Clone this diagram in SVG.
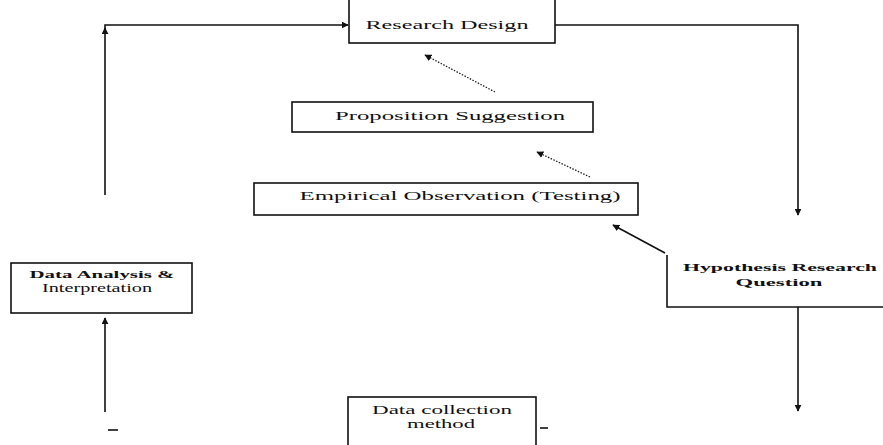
<svg xmlns="http://www.w3.org/2000/svg" width="883" height="445" viewBox="0 0 883 445">
<style>
.box{fill:#fff;stroke:#111;stroke-width:1.6}
.t{font-family:"Liberation Serif","Times New Roman",serif;font-size:12px;fill:#111;text-anchor:middle}
.b{font-weight:bold;font-size:11px}
.c{fill:none;stroke:#111;stroke-width:1.6}
.d{fill:none;stroke:#222;stroke-width:1.3;stroke-dasharray:1.5 1.5}
</style>
<defs>
<marker id="ahs" viewBox="0 0 10 10" refX="9" refY="5" markerWidth="7" markerHeight="7" orient="auto" markerUnits="userSpaceOnUse"><path d="M0,0 L10,5 L0,10 z" fill="#111"/></marker>
</defs>
<g id="connectors">
<polyline class="c" points="555,25 798,25 798,215" marker-end="url(#ahs)"/>
<polyline class="c" points="105,195 105,25 348,25" marker-end="url(#ahs)"/>
<line class="c" x1="105" y1="30" x2="105" y2="28" marker-end="url(#ahs)"/>
<line class="c" x1="798" y1="307" x2="798" y2="411" marker-end="url(#ahs)"/>
<line class="c" x1="105" y1="412" x2="105" y2="318" marker-end="url(#ahs)"/>
<line class="c" x1="665" y1="253" x2="613" y2="225" marker-end="url(#ahs)"/>
<line class="d" x1="495" y1="92" x2="425" y2="55" marker-end="url(#ahs)"/>
<line class="d" x1="590" y1="177" x2="537" y2="152" marker-end="url(#ahs)"/>
<line class="c" stroke-width="2.5" x1="108" y1="430" x2="118" y2="430"/>
<line class="c" stroke-width="2.5" x1="540" y1="428" x2="548" y2="428"/>
</g>
<g id="research-design">
<rect class="box" x="349" y="-5" width="206" height="48"/>
<text class="t" x="447" y="29" textLength="163" lengthAdjust="spacingAndGlyphs">Research Design</text>
</g>
<g id="proposition-suggestion">
<rect class="box" x="292" y="102" width="301" height="30"/>
<text class="t" x="450" y="120" textLength="230" lengthAdjust="spacingAndGlyphs">Proposition Suggestion</text>
</g>
<g id="empirical-observation">
<rect class="box" x="254" y="183" width="384" height="32"/>
<text class="t" x="460" y="200" textLength="321" lengthAdjust="spacingAndGlyphs">Empirical Observation (Testing)</text>
</g>
<g id="hypothesis">
<polyline class="c" points="667,255 667,307 883,307"/>
<text class="t b" x="780" y="271" textLength="194" lengthAdjust="spacingAndGlyphs">Hypothesis Research</text>
<text class="t b" x="779" y="286" textLength="87" lengthAdjust="spacingAndGlyphs">Question</text>
</g>
<g id="data-analysis">
<rect class="box" x="11" y="263" width="181" height="50"/>
<text class="t b" x="102" y="278" font-size="10" textLength="145" lengthAdjust="spacingAndGlyphs">Data Analysis &amp;</text>
<text class="t" x="97" y="292" font-size="9" textLength="110" lengthAdjust="spacingAndGlyphs">Interpretation</text>
</g>
<g id="data-collection">
<rect class="box" x="348" y="397" width="188" height="60"/>
<text class="t" x="442" y="414" font-size="11" textLength="140" lengthAdjust="spacingAndGlyphs">Data collection</text>
<text class="t" x="441" y="428" font-size="11" textLength="68" lengthAdjust="spacingAndGlyphs">method</text>
</g>
</svg>
